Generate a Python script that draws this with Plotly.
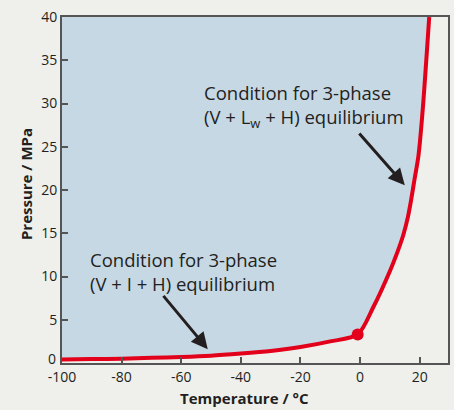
import plotly.graph_objects as go

# Data
lower_T = [-100, -90, -80, -70, -60, -50, -40, -30, -20, -10, -0.8]
lower_P = [0.4, 0.45, 0.5, 0.6, 0.7, 0.85, 1.1, 1.4, 1.85, 2.5, 3.3]
upper_T = [-0.8, 4.5, 10.1, 12.4, 14.5, 16.0, 17.2, 18.3, 19.6, 21.0, 23.2]
upper_P = [3.3, 6.5, 10.7, 12.7, 14.8, 16.8, 19.0, 21.3, 24.0, 29.2, 40.0]
quad_T = [-0.8]
quad_P = [3.3]

x_range = [-100, 29.5]
y_range = [0, 40]
x_ticks = [-100, -80, -60, -40, -20, 0, 20]
x_ticktext = ["-100", "-80", "-60", "-40", "-20", "0", "20"]
y_ticks = [0, 5, 10, 15, 20, 25, 30, 35, 40]
y_ticktext = ["", "5", "10", "15", "20", "25", "30", "35", "40"]
y_zero_label = "0"

curve_T = lower_T + upper_T[1:]
curve_P = lower_P + upper_P[1:]

BG = "#efefeb"
FILL = "#c6d8e4"
RED = "#e2001a"
INK = "#231f20"
FONT = "Open Sans"

fig = go.Figure()

# hydrate stability region (left/above curve)
fig.add_trace(go.Scatter(
    x=curve_T + [x_range[0], x_range[0]],
    y=curve_P + [y_range[1], curve_P[0]],
    fill="toself", fillcolor=FILL, mode="none", hoverinfo="skip",
    showlegend=False))

fig.add_trace(go.Scatter(
    x=curve_T, y=curve_P, mode="lines",
    line=dict(color=RED, width=4, shape="spline", smoothing=0.8),
    showlegend=False))

fig.add_trace(go.Scatter(
    x=quad_T, y=quad_P, mode="markers",
    marker=dict(color=RED, size=12), showlegend=False, cliponaxis=False))

# annotation texts
txt = dict(showarrow=False, xanchor="left", yanchor="middle", xref="x", yref="y",
           align="left", font=dict(family=FONT, size=18.5, color=INK))
fig.add_annotation(x=-53.1, y=29.7,
                   text="Condition for 3-phase<br>(V + L<sub>w</sub> + H) equilibrium", **txt)
fig.add_annotation(x=-91.4, y=10.6,
                   text="Condition for 3-phase<br>(V + I + H) equilibrium", **txt)

# arrows
fig.add_annotation(x=15.0, y=20.55, ax=-0.7, ay=26.7, xref="x", yref="y",
                   axref="x", ayref="y", text="", showarrow=True,
                   arrowhead=2, arrowsize=1.1, arrowwidth=3, arrowcolor=INK)
fig.add_annotation(x=-51.1, y=1.6, ax=-66.4, ay=7.93, xref="x", yref="y",
                   axref="x", ayref="y", text="", showarrow=True,
                   arrowhead=2, arrowsize=1.1, arrowwidth=3, arrowcolor=INK)

# raised "0" label on the y axis (as in the reference)
fig.add_annotation(x=0, y=y_ticks[0], xref="paper", yref="y", text=y_zero_label,
                   showarrow=False, xanchor="right", yanchor="middle",
                   xshift=-4, yshift=5,
                   font=dict(family=FONT, size=14, color=INK))

# axis titles
fig.add_annotation(x=0.474, y=-0.101, xref="paper", yref="paper",
                   text="<b>Temperature / °C</b>", showarrow=False,
                   xanchor="center", yanchor="middle",
                   font=dict(family=FONT, size=15, color=INK))
fig.add_annotation(x=-0.0933, y=0.517, xref="paper", yref="paper",
                   text="<b>Pressure / MPa</b>", showarrow=False, textangle=-90,
                   xanchor="center", yanchor="middle",
                   font=dict(family=FONT, size=15, color=INK))

axis_common = dict(showgrid=False, zeroline=False, showline=True,
                   linecolor="#555555", linewidth=2, mirror=True,
                   ticks="inside", ticklen=6, tickwidth=1.5, tickcolor="#555555",
                   automargin=False,
                   tickfont=dict(family=FONT, size=14, color=INK))

fig.update_xaxes(range=x_range, tickvals=x_ticks, ticktext=x_ticktext, **axis_common)
fig.update_yaxes(range=y_range, tickvals=y_ticks, ticktext=y_ticktext, **axis_common)

fig.update_layout(width=454, height=410,
                  margin=dict(l=62, r=6, t=17, b=47),
                  paper_bgcolor=BG, plot_bgcolor=BG,
                  font=dict(family=FONT, color=INK))

fig.write_html("out.html",
               config={"displayModeBar": False},
               post_script="document.body.style.margin='0';"
                           "document.body.style.background='" + BG + "';")
